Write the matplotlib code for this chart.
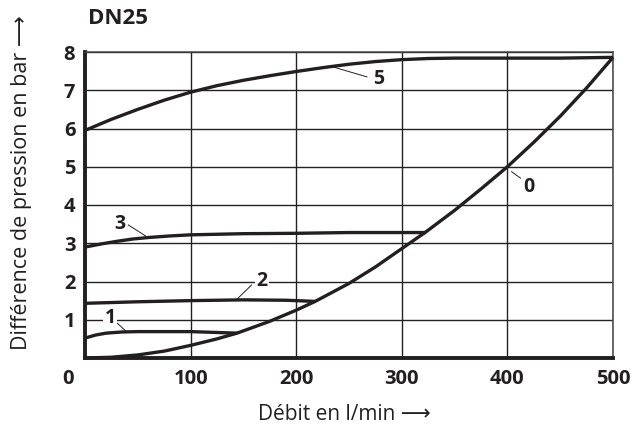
import matplotlib
matplotlib.use("Agg")
import matplotlib.pyplot as plt

plt.rcParams['font.family'] = ['Open Sans', 'DejaVu Sans']

# Data (flow in l/min, pressure difference in bar)
c0_x = [0, 25, 50, 75, 100, 125, 144, 175, 200, 218, 250, 275, 300, 323, 350, 375,
        400, 425, 450, 475, 500]
c0_y = [0, 0.02, 0.08, 0.18, 0.33, 0.50, 0.65, 0.96, 1.25, 1.48, 1.95, 2.38, 2.86,
        3.30, 3.86, 4.42, 5.0, 5.64, 6.32, 7.06, 7.86]

c1_x = [0, 10, 20, 35, 50, 100, 144]
c1_y = [0.52, 0.60, 0.65, 0.68, 0.69, 0.69, 0.65]

c2_x = [0, 50, 100, 150, 190, 218]
c2_y = [1.43, 1.47, 1.50, 1.52, 1.51, 1.48]

c3_x = [0, 15, 30, 45, 60, 80, 100, 150, 200, 250, 300, 323]
c3_y = [2.90, 2.98, 3.05, 3.11, 3.15, 3.19, 3.22, 3.25, 3.26, 3.28, 3.28, 3.28]

c5_x = [0, 25, 50, 75, 100, 125, 150, 175, 200, 225, 250, 275, 300, 325, 350, 400,
        450, 500]
c5_y = [5.95, 6.24, 6.50, 6.74, 6.95, 7.12, 7.26, 7.38, 7.49, 7.59, 7.68, 7.75, 7.80,
        7.83, 7.84, 7.84, 7.84, 7.86]

x_ticks = [100, 200, 300, 400, 500]
y_ticks = [1, 2, 3, 4, 5, 6, 7, 8]

curve_labels = ["0", "1", "2", "3", "5"]
label_pos = [(420.5, 4.48), (23.7, 1.05), (167.3, 2.02), (33.1, 3.50), (277.7, 7.29)]
leader_from = [(404, 4.87), (30.6, 0.91), (157.8, 1.91), (41, 3.48), (267, 7.35)]
leader_to = [(412.5, 4.70), (38.8, 0.70), (143.6, 1.53), (57.4, 3.19), (234.8, 7.61)]

fig = plt.figure(figsize=(6.43, 4.33), dpi=100)
ax = fig.add_axes([85/643, 1-358/433, (613-85)/643, (358-52)/433])
ax.set_xlim(0, 500)
ax.set_ylim(0, 8)

ax.set_xticks(x_ticks)
ax.set_yticks(y_ticks)
ax.grid(True, color='#222222', lw=1.0)
ax.set_axisbelow(True)
ax.tick_params(length=0, labelsize=14.5)
ax.tick_params(axis='x', pad=8)
ax.tick_params(axis='y', pad=7)
for lab in ax.get_xticklabels() + ax.get_yticklabels():
    lab.set_fontweight('bold')
    lab.set_color('#231f20')

for s in ['left', 'bottom']:
    ax.spines[s].set_linewidth(2.8)
    ax.spines[s].set_color('#231f20')
for s in ['top', 'right']:
    ax.spines[s].set_linewidth(1.1)
    ax.spines[s].set_color('#444444')

lc = '#231f20'
for xs, ys in [(c0_x, c0_y), (c1_x, c1_y), (c2_x, c2_y), (c3_x, c3_y), (c5_x, c5_y)]:
    ax.plot(xs, ys, color=lc, lw=2.4, solid_joinstyle='round', solid_capstyle='butt',
            clip_on=False, zorder=3)

for t, (lx, ly), (fx, fy), (tx, ty) in zip(curve_labels, label_pos, leader_from, leader_to):
    ax.plot([fx, tx], [fy, ty], color=lc, lw=0.7, zorder=3)
    bbox = None
    if t in ("1", "2"):
        bbox = dict(facecolor='white', edgecolor='none', pad=1.0)
    ax.text(lx, ly, t, ha='center', va='center', fontsize=14, fontweight='bold',
            color=lc, bbox=bbox, zorder=4)

# origin label
ax.annotate("0", xy=(-16, 0), xycoords=('data', 'axes fraction'), xytext=(0, -8),
            textcoords='offset points', ha='center', va='top', fontsize=14.5,
            fontweight='bold', color=lc, annotation_clip=False)

fig.text(88/643, 1-18/433, "DN25", ha='left', va='center', fontsize=16,
         fontweight='bold', color=lc)
fig.text(344/643, 1-414/433, "Débit en l/min ⟶", ha='center', va='center',
         fontsize=15, color=lc)
fig.text(22/643, 1-183/433, "Différence de pression en bar ⟶", ha='center',
         va='center', rotation=90, fontsize=15.5, color=lc)

fig.savefig("out.png", dpi=100)
